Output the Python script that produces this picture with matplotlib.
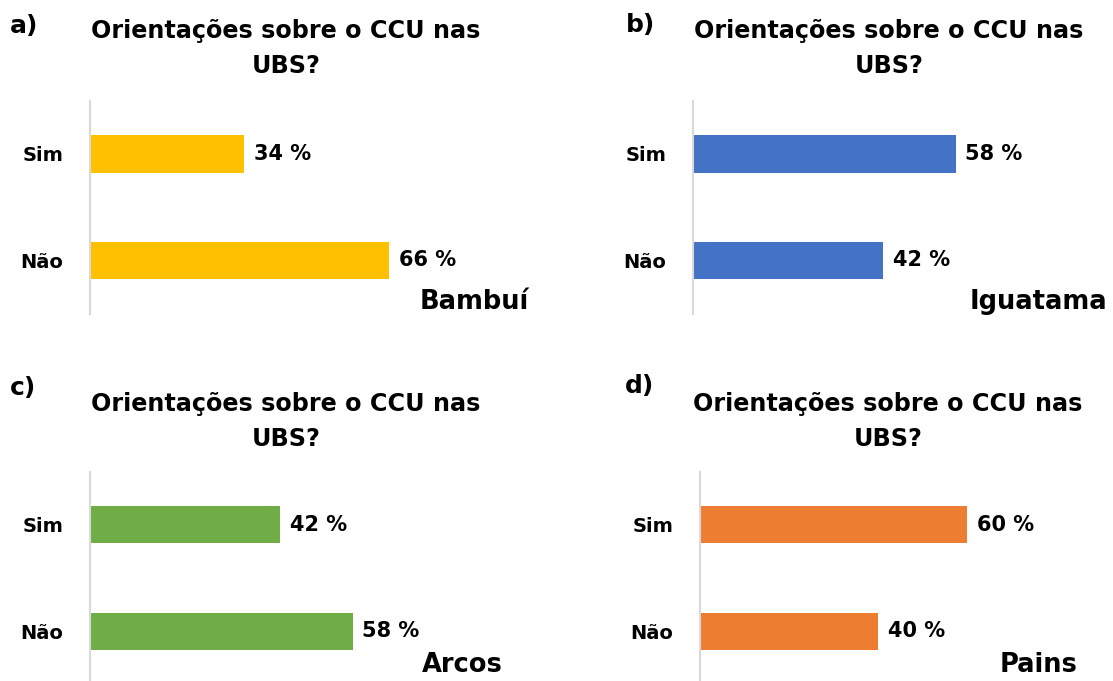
import matplotlib
matplotlib.use('Agg')
import matplotlib.pyplot as plt

# Data
categories = ['Sim', 'Não']
bambui = [34, 66]
iguatama = [58, 42]
arcos = [42, 58]
pains = [60, 40]
cities = ['Bambuí', 'Iguatama', 'Arcos', 'Pains']
letters = ['a)', 'b)', 'c)', 'd)']
title = 'Orientações sobre o CCU nas'
title2 = 'UBS?'

colors = ['#FFC000', '#4472C4', '#70AD47', '#ED7D31']
values = [bambui, iguatama, arcos, pains]

W, H = 1113, 681
plt.rcParams['font.family'] = 'DejaVu Sans'
plt.rcParams['font.weight'] = 'bold'

fig = plt.figure(figsize=(W / 100, H / 100), dpi=100)


def fx(px):
    return px / W


def fy(py):
    return 1 - py / H


# panel layout in pixels: axis left, axis width, axis top, title centre, letter x, letter baseline, city right
panels = [
    dict(left=90, width=453, top=100.7, tcx=286, tbase=38, lx=10, lbase=33, cright=529, cbase=309),
    dict(left=693, width=453, top=100.7, tcx=889, tbase=38, lx=626, lbase=32, cright=1107, cbase=309),
    dict(left=90, width=453, top=471.5, tcx=286, tbase=411, lx=10, lbase=395, cright=503, cbase=672),
    dict(left=700, width=445, top=471.5, tcx=888, tbase=411, lx=625, lbase=393, cright=1077, cbase=672),
]
axis_h = 213

for i, p in enumerate(panels):
    ax = fig.add_axes([fx(p['left']), fy(p['top'] + axis_h), fx(p['width']), axis_h / H])
    ax.barh(categories, values[i], height=0.35, color=colors[i])
    ax.set_xlim(0, 100)
    ax.set_ylim(1.5, -0.5)
    for s in ['top', 'right', 'bottom']:
        ax.spines[s].set_visible(False)
    ax.spines['left'].set_color('#d9d9d9')
    ax.spines['left'].set_linewidth(1.5)
    ax.set_xticks([])
    ax.tick_params(axis='y', length=0, pad=19, labelsize=14)
    for lab in ax.get_yticklabels():
        lab.set_fontweight('bold')
    ax.patch.set_alpha(0)

    # value labels
    for j, v in enumerate(values[i]):
        ax.annotate(f'{v} %', (v, j), xytext=(7, 0), textcoords='offset points',
                    va='center', ha='left', fontsize=15, fontweight='bold')

    # titles, panel letters and city names
    fig.text(fx(p['tcx']), fy(p['tbase']), title, ha='center', va='baseline',
             fontsize=17.2, fontweight='bold')
    fig.text(fx(p['tcx']), fy(p['tbase'] + 35), title2, ha='center', va='baseline',
             fontsize=17.2, fontweight='bold')
    fig.text(fx(p['lx']), fy(p['lbase']), letters[i], ha='left', va='baseline',
             fontsize=18, fontweight='bold')
    fig.text(fx(p['cright']), fy(p['cbase']), cities[i], ha='right', va='baseline',
             fontsize=18.5, fontweight='bold')

fig.savefig('out.png', dpi=100)
